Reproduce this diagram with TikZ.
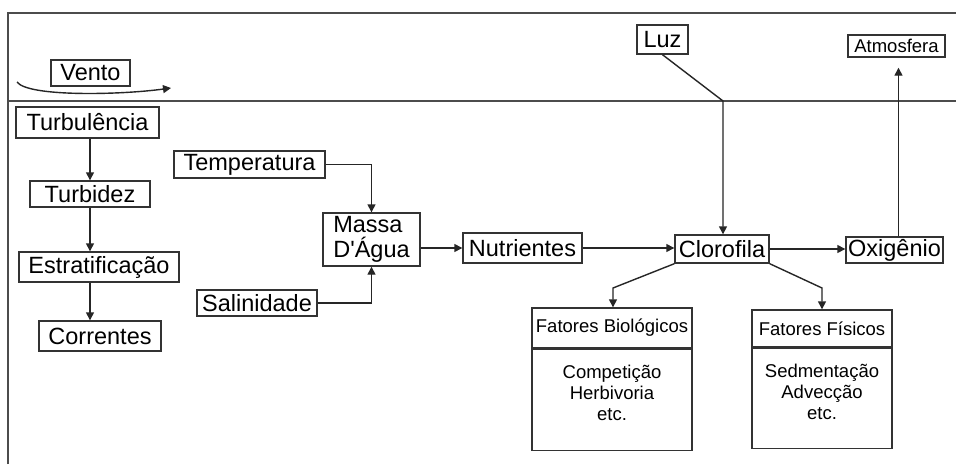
\documentclass[tikz,border=0pt]{standalone}
\usepackage{fontspec}
\setmainfont{Liberation Sans}[Ligatures=TeXOff]
\usetikzlibrary{arrows.meta}
\begin{document}
\begin{tikzpicture}[x=1pt,y=-1pt,
  line width=1.4pt,
  lbl/.style={draw=black!80,line width=1.4pt,inner sep=0pt,font=\fontsize{23.5}{25}\selectfont},
  sml/.style={draw=black!80,line width=1.4pt,inner sep=0pt,font=\fontsize{18.5}{21}\selectfont},
  arr/.style={draw=black!85,-{Triangle[length=8pt,width=8pt]}},
  frame/.style={draw=black!70,line width=1.5pt}]
\useasboundingbox (0,0) rectangle (956,464);
\fill[white] (0,0) rectangle (956,464);
% frame
\draw[frame] (8,464) -- (8,13) -- (956,13);
\draw[frame] (8,101) -- (956,101);
% nodes
\node[lbl,minimum width=79pt,minimum height=26pt] (vento) at (90.5,73) {Vento};
\node[lbl,minimum width=143pt,minimum height=31pt] (turb) at (87.5,122.5) {Turbulência};
\node[lbl,minimum width=120pt,minimum height=26pt] (turbidez) at (90,194) {Turbidez};
\node[lbl,minimum width=160pt,minimum height=30pt] (estrat) at (99,267) {Estratificação};
\node[lbl,minimum width=122pt,minimum height=30pt] (corr) at (100,336) {Correntes};
\node[lbl,minimum width=151pt,minimum height=27pt] (temp) at (249.5,164.5) {Temperatura};
\node[lbl,minimum width=120pt,minimum height=26pt] (sal) at (257,303) {Salinidade};
\node[lbl,minimum width=97pt,minimum height=53pt,align=left] (massa) at (371.5,239.5) {Massa\\D'Água};
\node[lbl,minimum width=119pt,minimum height=30pt] (nutr) at (522.5,248) {Nutrientes};
\node[lbl,minimum width=94pt,minimum height=28pt] (cloro) at (722,249) {Clorofila};
\node[lbl,minimum width=97pt,minimum height=26pt,text width=97pt,align=center] (oxi) at (894.5,250) {Oxigênio};
\node[lbl,minimum width=51pt,minimum height=29pt] (luz) at (662.5,39.5) {Luz};
\node[sml,minimum width=97pt,minimum height=22pt] (atm) at (896.5,46) {Atmosfera};
\node[sml,minimum width=160pt,minimum height=40pt] (fbt) at (612,328) {Fatores Biológicos};
\node[sml,minimum width=160pt,minimum height=101pt,anchor=north,align=center] (fbb) at (fbt.south) {\\[-60pt]Competição\\Herbivoria\\etc.};
\node[sml,minimum width=140pt,minimum height=37pt] (fft) at (822,328.5) {Fatores Físicos};
\node[sml,minimum width=140pt,minimum height=100pt,anchor=north,align=center] (ffb) at (fft.south) {\\[-60pt]Sedmentação\\Advecção\\etc.};
% coordinates
\coordinate (w1) at (17,82);
\coordinate (w2) at (171,88);
\coordinate (lb) at (723,101);
\coordinate (bl) at (613,288);
\coordinate (br) at (822,288);
% connectors
\draw[arr] (w1) .. controls (28,97) and (120,95) .. (w2);
\draw[arr] (turb.south -| turbidez) -- (turbidez.north);
\draw[arr] (turbidez.south) -- (turbidez.south |- estrat.north);
\draw[arr] (turbidez.south |- estrat.south) -- (turbidez.south |- corr.north);
\draw[arr] (temp.east) -| (massa.north);
\draw[arr] (sal.east) -| (massa.south);
\draw[arr] (massa.east |- nutr.west) -- (nutr.west);
\draw[arr] (nutr.east) -- (cloro.west |- nutr.east);
\draw[arr] (cloro.east) -- (oxi.west |- cloro.east);
\draw[arr] (luz.south) -- (lb) -- (lb |- cloro.north);
\draw[arr,shorten >=10pt] ([xshift=4pt]oxi.north) -- ([xshift=4pt]oxi.north |- atm.south);
\draw[arr] (cloro.south west) -- (bl) -- (bl |- fbt.north);
\draw[arr] (cloro.south east) -- (br) -- (br |- fft.north);
\end{tikzpicture}
\end{document}
